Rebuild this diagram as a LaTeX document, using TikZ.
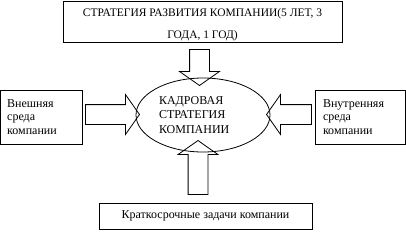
\documentclass[tikz,border=0pt]{standalone}
\usepackage{fontspec}
\setmainfont{Liberation Serif}
\usetikzlibrary{shapes.geometric,shapes.arrows}

\begin{document}
\begin{tikzpicture}[
  x=1pt, y=-1pt,
  box/.style={draw, line width=0.8pt, inner sep=0pt,
              font=\fontsize{12pt}{14pt}\selectfont},
  blk/.style={draw, single arrow, line width=0.8pt, inner sep=9.5pt,
              single arrow head extend=10pt, single arrow tip angle=110,
              minimum height=#1pt}
]
  \useasboundingbox (0,0) rectangle (406,231);

  \node[box, minimum width=279pt, minimum height=41pt, align=center,
        font=\fontsize{11.5pt}{22pt}\selectfont] (strat) at (202.5,21.5)
        {\rule{0pt}{14.5pt}СТРАТЕГИЯ РАЗВИТИЯ КОМПАНИИ(5 ЛЕТ, 3\\ГОДА, 1 ГОД)};
  \node[box, ellipse, minimum width=134pt, minimum height=74pt, text width=88pt,
        align=left, font=\fontsize{12pt}{14.5pt}\selectfont] (kadr) at (203,115)
        {КАДРОВАЯ\\СТРАТЕГИЯ\\КОМПАНИИ};
  \node[box, minimum width=81.5pt, minimum height=54pt, text width=68pt,
        align=left, font=\fontsize{12pt}{13.5pt}\selectfont] (vnesh) at (41.2,117)
        {Внешняя\\среда\\компании};
  \node[box, minimum width=90pt, minimum height=54pt, text width=74pt,
        align=left, font=\fontsize{12pt}{13.5pt}\selectfont] (vnutr) at (360,117)
        {Внутренняя\\среда\\компании};
  \node[box, minimum width=213pt, minimum height=26pt] (zadach) at (205.5,216)
        {Краткосрочные задачи компании};

  % block arrows into the ellipse
  \node[blk=36, shape border rotate=270] (a1) at (199.5,64)  {};
  \node[blk=54, shape border rotate=0]   (a2) at (109,114.5) {};
  \node[blk=45, shape border rotate=180] (a3) at (292.5,114.5) {};
  \node[blk=54, shape border rotate=90]  (a4) at (198,171)  {};
\end{tikzpicture}
\end{document}
